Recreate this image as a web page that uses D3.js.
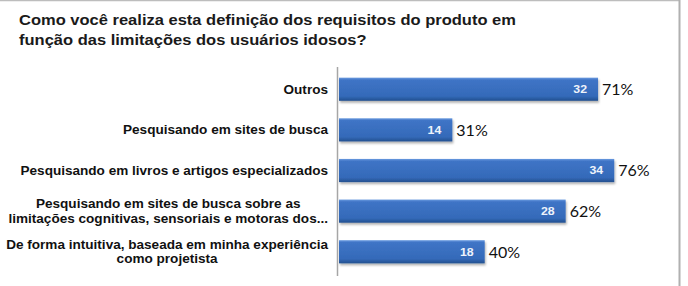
<!DOCTYPE html>
<html>
<head>
<meta charset="utf-8">
<script src="https://cdn.jsdelivr.net/npm/d3@7"></script>
<style>
  body { margin: 0; background: #fff; }
  svg { display: block; }
</style>
</head>
<body>
<svg width="688" height="286"></svg>
<script>
var titleLines = ["Como você realiza esta definição dos requisitos do produto em",
                  "função das limitações dos usuários idosos?"];
var categories = [
  ["Outros"],
  ["Pesquisando em sites de busca"],
  ["Pesquisando em livros e artigos especializados"],
  ["Pesquisando em sites de busca sobre as", "limitações cognitivas, sensoriais e motoras dos..."],
  ["De forma intuitiva, baseada em minha experiência", "como projetista"]
];
var counts = [32, 14, 34, 28, 18];
var percents = ["71%", "31%", "76%", "62%", "40%"];

var svg = d3.select("svg");

// the source picture is slightly stretched sideways, widen the text to match
function stretch(sel, k) {
  sel.each(function() {
    var w = this.getComputedTextLength();
    d3.select(this).attr("textLength", w * k).attr("lengthAdjust", "spacingAndGlyphs");
  });
}

// frame
svg.append("line").attr("x1", 0).attr("x2", 680).attr("y1", 0.5).attr("y2", 0.5)
  .attr("stroke", "#bdbdbd").attr("stroke-width", 1.5);
svg.append("line").attr("x1", 679.5).attr("x2", 679.5).attr("y1", 0).attr("y2", 286)
  .attr("stroke", "#b0b0b0").attr("stroke-width", 2);

var defs = svg.append("defs");
var grad = defs.append("linearGradient").attr("id", "barGrad")
  .attr("x1", 0).attr("y1", 0).attr("x2", 0).attr("y2", 1);
grad.append("stop").attr("offset", "0%").attr("stop-color", "#6b9be0");
grad.append("stop").attr("offset", "10%").attr("stop-color", "#3f74c6");
grad.append("stop").attr("offset", "80%").attr("stop-color", "#346ab9");
grad.append("stop").attr("offset", "100%").attr("stop-color", "#23508f");
var sh = defs.append("filter").attr("id", "shadow").attr("x", "-5%").attr("y", "-20%")
  .attr("width", "110%").attr("height", "160%");
sh.append("feDropShadow").attr("dx", 1).attr("dy", 2).attr("stdDeviation", 1.2)
  .attr("flood-color", "#000").attr("flood-opacity", 0.3);

// title
var title = svg.append("text")
  .attr("x", 19).attr("y", 25)
  .style("font", "bold 15px 'Liberation Sans', Arial, sans-serif")
  .attr("fill", "#1a1a1a")
  .selectAll("tspan").data(titleLines).enter().append("tspan")
  .attr("x", 19).attr("dy", function(d, i) { return i ? 20 : 0; })
  .text(function(d) { return d; });
stretch(title, 1.10);

var x = d3.scaleLinear().domain([0, 42]).range([339, 679]);
var y = d3.scaleBand().domain(d3.range(categories.length))
  .range([67.5, 273.5]).paddingInner(0.43).paddingOuter(0.25);

// axis line
svg.append("line").attr("x1", 337.5).attr("x2", 337.5).attr("y1", 67).attr("y2", 276)
  .attr("stroke", "#a6a6a6").attr("stroke-width", 1.5);

var rows = svg.selectAll(".row").data(counts).enter().append("g").attr("class", "row");

rows.append("rect")
  .attr("x", x(0))
  .attr("y", function(d, i) { return y(i); })
  .attr("width", function(d) { return x(d) - x(0); })
  .attr("height", y.bandwidth())
  .attr("fill", "url(#barGrad)")
  .attr("filter", "url(#shadow)");

var inside = rows.append("text")
  .attr("x", function(d) { return x(d) - 11; })
  .attr("y", function(d, i) { return y(i) + y.bandwidth() / 2; })
  .attr("dy", "0.36em")
  .attr("text-anchor", "end")
  .attr("fill", "#eef3fb")
  .style("font", "bold 11px 'Liberation Sans', Arial, sans-serif")
  .text(function(d) { return d; });
stretch(inside, 1.12);

rows.append("text")
  .attr("x", function(d) { return x(d) + 4; })
  .attr("y", function(d, i) { return y(i) + y.bandwidth() / 2; })
  .attr("dy", "0.36em")
  .attr("fill", "#111")
  .style("font", "16px Lato, 'Open Sans', sans-serif")
  .text(function(d, i) { return percents[i]; });

// category labels (multi-line centred on the widest line, right aligned block)
var labelRight = 328, k = 1.13;
var labels = svg.selectAll(".cat").data(categories).enter().append("text")
  .attr("class", "cat")
  .attr("fill", "#111")
  .style("font", "bold 12px 'Liberation Sans', Arial, sans-serif");
labels.each(function(lines, i) {
  var t = d3.select(this);
  var cy = y(i) + y.bandwidth() / 2;
  var n = lines.length;
  var tsp = t.selectAll("tspan").data(lines).enter().append("tspan")
    .attr("y", function(d, j) { return cy + (j - (n - 1) / 2) * 14.5; })
    .attr("dy", "0.36em")
    .text(function(d) { return d; });
  var w = 0;
  tsp.each(function() { w = Math.max(w, this.getComputedTextLength() * k); });
  stretch(tsp, k);
  tsp.attr("text-anchor", "middle").attr("x", labelRight - w / 2);
});
</script>
</body>
</html>
